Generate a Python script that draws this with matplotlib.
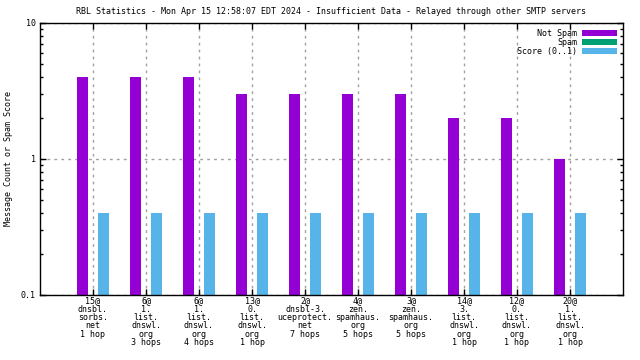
import numpy as np
import matplotlib
matplotlib.use("Agg")
import matplotlib.pyplot as plt
from matplotlib.ticker import LogLocator, NullFormatter, FixedLocator

labels = ["15@\ndnsbl.\nsorbs.\nnet\n1 hop",
          "6@\n1.\nlist.\ndnswl.\norg\n3 hops",
          "6@\n1.\nlist.\ndnswl.\norg\n4 hops",
          "13@\n0.\nlist.\ndnswl.\norg\n1 hop",
          "2@\ndnsbl-3.\nuceprotect.\nnet\n7 hops",
          "4@\nzen.\nspamhaus.\norg\n5 hops",
          "3@\nzen.\nspamhaus.\norg\n5 hops",
          "14@\n3.\nlist.\ndnswl.\norg\n1 hop",
          "12@\n0.\nlist.\ndnswl.\norg\n1 hop",
          "20@\n1.\nlist.\ndnswl.\norg\n1 hop"]
not_spam = [4, 4, 4, 3, 3, 3, 3, 2, 2, 1]
spam = [0, 0, 0, 0, 0, 0, 0, 0, 0, 0]
score = [0.4, 0.4, 0.4, 0.4, 0.4, 0.4, 0.4, 0.4, 0.4, 0.4]

plt.rcParams["font.family"] = "DejaVu Sans Mono"
plt.rcParams["font.size"] = 6

fig = plt.figure(figsize=(6.4, 3.6), dpi=100)
ax = fig.add_axes([40/640, 1-295/360, 583/640, 272/360])

x = np.arange(len(labels))
w = 0.22
ax.bar(x-0.2, not_spam, w, color="#9400d3", label="Not Spam", zorder=2)
ax.bar(x, spam, w, color="#009e73", label="Spam", zorder=2)
ax.bar(x+0.2, score, w, color="#56b4e9", label="Score (0..1)", zorder=2)

ax.set_yscale("log")
ax.set_ylim(0.1, 10)
ax.set_xlim(-1, 10)
ax.yaxis.set_major_locator(FixedLocator([0.1, 1, 10]))
ax.set_yticklabels(["0.1", "1", "10"])
ax.yaxis.set_minor_locator(LogLocator(base=10, subs=np.arange(2, 10)))
ax.yaxis.set_minor_formatter(NullFormatter())
ax.set_xticks(x)
ax.set_xticklabels(labels, linespacing=0.9, va="top")
ax.tick_params(which="both", direction="in", top=True, right=True, width=1)
ax.tick_params(which="major", length=4, pad=3)
ax.tick_params(axis="x", which="major", pad=1)
ax.tick_params(which="minor", length=2)
ax.grid(True, which="major", color="#a0a0a0", linestyle=(0, (2, 3)), linewidth=1, zorder=1)
for s in ax.spines.values():
    s.set_linewidth(1)

ax.set_ylabel("Message Count or Spam Score")
ax.yaxis.set_label_coords(-27/583, 0.5)
fig.text(331/640, 1-12/360, "RBL Statistics - Mon Apr 15 12:58:07 EDT 2024 - Insufficient Data - Relayed through other SMTP servers",
         ha="center", va="center")
ax.legend(loc="upper right", frameon=False, markerfirst=False, handlelength=4.2, handleheight=0.6,
          labelspacing=0.0, borderaxespad=0.4, handletextpad=0.6, borderpad=0.3)

fig.savefig("out.png", dpi=100)
